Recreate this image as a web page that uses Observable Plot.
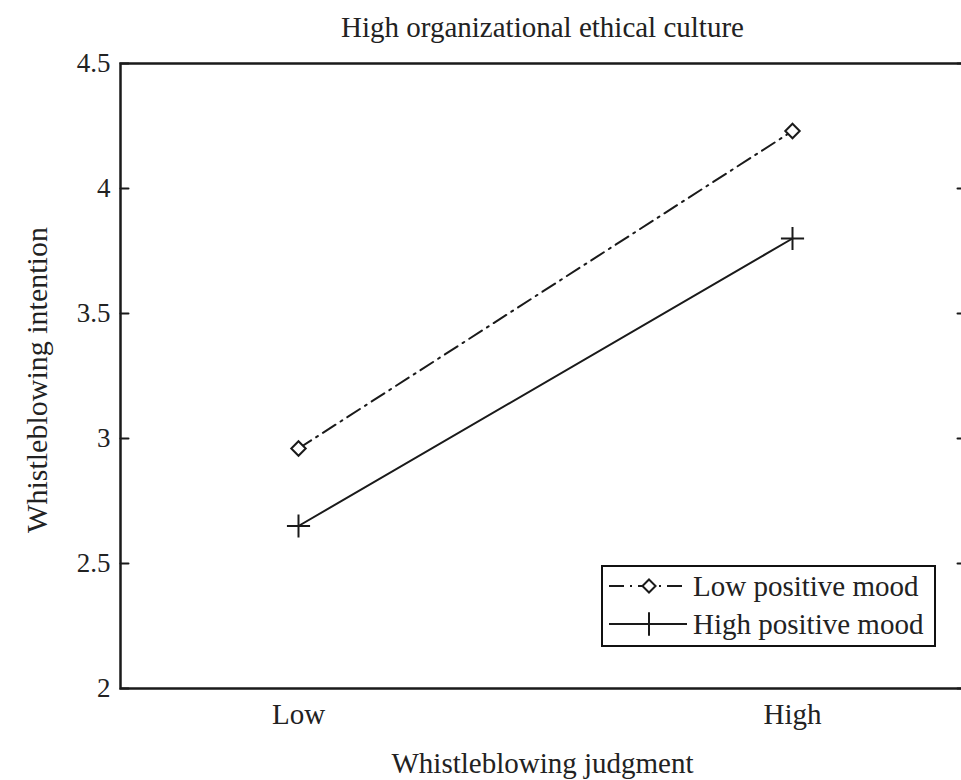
<!DOCTYPE html>
<html>
<head>
<meta charset="utf-8">
<script src="https://cdn.jsdelivr.net/npm/d3@7"></script>
<script src="https://cdn.jsdelivr.net/npm/@observablehq/plot@0.6"></script>
<style>
  html, body { margin: 0; padding: 0; background: #fff; overflow: hidden; }
  #wrap { position: relative; width: 961px; height: 780px; overflow: hidden; font-family: "Liberation Serif", "Times New Roman", serif; color: #222; }
  #chart { position: absolute; left: 0; top: 0; width: 961px; height: 780px; overflow: hidden; }
  #chart svg { overflow: hidden; }
  .lbl { position: absolute; font-size: 29px; white-space: nowrap; line-height: 1; }
  #title { left: 120px; width: 845px; top: 13px; text-align: center; }
  #xlabel { left: 120px; width: 845px; top: 749px; text-align: center; }
  #ylabel { left: 37px; top: 380px; font-size: 30px; transform: translate(-50%, -50%) rotate(-90deg); }
  #legend { position: absolute; left: 601px; top: 565px; width: 335px; height: 82px; box-sizing: border-box; border: 2.5px solid #111; background: #fff; }
  .sample { position: absolute; left: 4px; }
  .ltext { position: absolute; left: 90px; font-size: 29px; line-height: 1; white-space: nowrap; transform: translateY(-50%); }
</style>
</head>
<body>
<div id="wrap">
  <div id="chart"></div>
  <div id="title" class="lbl"></div>
  <div id="xlabel" class="lbl"></div>
  <div id="ylabel" class="lbl"></div>
  <div id="legend"></div>
</div>
<script>
const titleText = "High organizational ethical culture";
const xLabel = "Whistleblowing judgment";
const yLabel = "Whistleblowing intention";
const categories = ["Low", "High"];
const seriesNames = ["Low positive mood", "High positive mood"];
const lowMoodValues = [2.96, 4.23];
const highMoodValues = [2.65, 3.80];
const yTicks = [2, 2.5, 3, 3.5, 4, 4.5];
const yTickLabels = ["2", "2.5", "3", "3.5", "4", "4.5"];

const lowData = categories.map((c, i) => ({x: c, y: lowMoodValues[i], s: seriesNames[0]}));
const highData = categories.map((c, i) => ({x: c, y: highMoodValues[i], s: seriesNames[1]}));

const ink = "#1a1a1a";
const dashStyle = "15,6,2,6";

const chart = Plot.plot({
  width: 961,
  height: 780,
  marginTop: 63,
  marginBottom: 92,
  marginLeft: 120,
  marginRight: -4,
  style: {fontFamily: "'Liberation Serif', 'Times New Roman', serif", fontSize: "29px", color: "#222", background: "transparent", overflow: "hidden"},
  x: {type: "point", domain: categories, padding: 0.35, insetLeft: 5},
  y: {domain: [2, 4.5]},
  marks: [
    Plot.axisY({ticks: yTicks, tickFormat: d => yTickLabels[yTicks.indexOf(d)], tickSize: 0, tickPadding: 10, fontSize: 27, label: null}),
    Plot.axisX({tickSize: 0, tickPadding: 15, fontSize: 29, label: null}),
    Plot.vector(yTicks, {y: d => d, frameAnchor: "left", rotate: 90, length: 8, anchor: "start", r: 0, stroke: ink, strokeWidth: 2}),
    Plot.vector(yTicks, {y: d => d, frameAnchor: "right", rotate: -90, length: 8, anchor: "start", r: 0, stroke: ink, strokeWidth: 2}),
    Plot.line(lowData, {x: "x", y: "y", stroke: ink, strokeWidth: 2, strokeDasharray: dashStyle}),
    Plot.line(highData, {x: "x", y: "y", stroke: ink, strokeWidth: 2}),
    Plot.dot(lowData, {x: "x", y: "y", symbol: "diamond2", r: 6.5, stroke: ink, fill: "white", strokeWidth: 2}),
    Plot.dot(highData, {x: "x", y: "y", symbol: "plus", r: 7.5, stroke: ink, strokeWidth: 2}),
    Plot.frame({stroke: ink, strokeWidth: 2.5})
  ]
});
document.getElementById("chart").appendChild(chart);
document.getElementById("title").textContent = titleText;
document.getElementById("xlabel").textContent = xLabel;
document.getElementById("ylabel").textContent = yLabel;

// Legend
const legend = document.getElementById("legend");
const legendStyles = [
  {dash: dashStyle, symbol: d3.symbolDiamond2, size: 110, fill: "white"},
  {dash: null, symbol: d3.symbolPlus, size: 180, fill: "none"}
];
const rowCenters = [19, 57];
seriesNames.forEach((name, i) => {
  const st = legendStyles[i];
  const svg = d3.create("svg").attr("class", "sample").attr("width", 82).attr("height", 30)
    .style("top", (rowCenters[i] - 15) + "px");
  svg.append("line").attr("x1", 2).attr("x2", 80).attr("y1", 15).attr("y2", 15)
    .attr("stroke", ink).attr("stroke-width", 2).attr("stroke-dasharray", st.dash);
  svg.append("path").attr("d", d3.symbol(st.symbol, st.size)()).attr("transform", "translate(42,15)")
    .attr("stroke", ink).attr("stroke-width", 2).attr("fill", st.fill);
  legend.appendChild(svg.node());
  const span = document.createElement("div");
  span.className = "ltext";
  span.style.top = rowCenters[i] + "px";
  span.textContent = name;
  legend.appendChild(span);
});
</script>
</body>
</html>
